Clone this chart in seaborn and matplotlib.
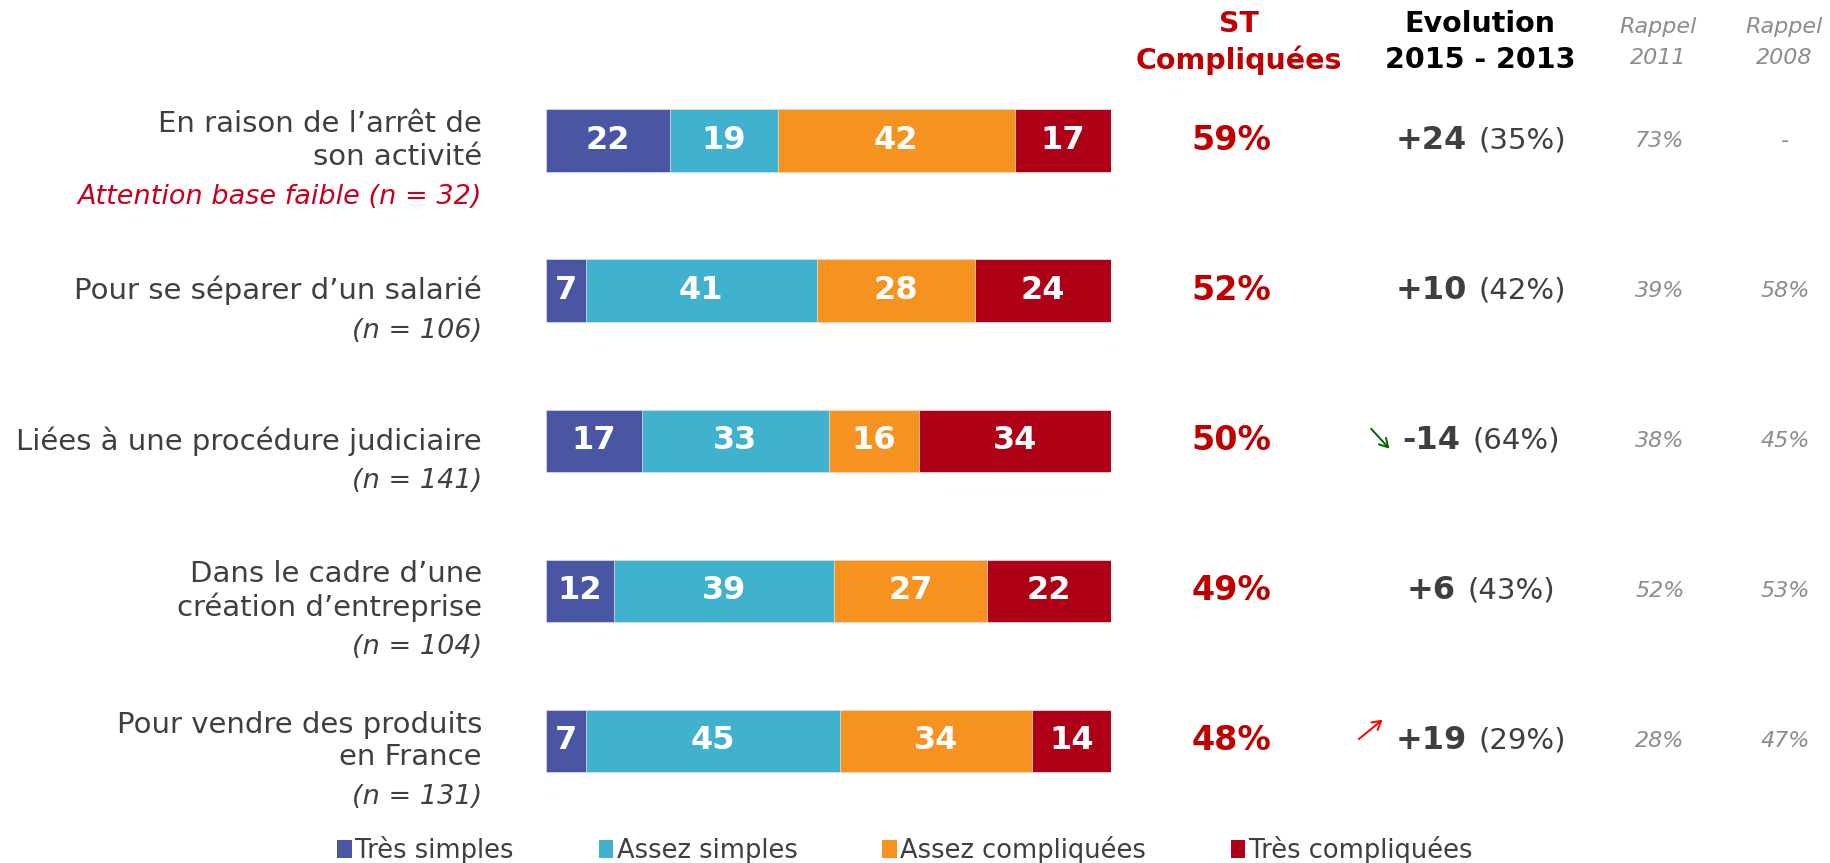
import numpy as np
import pandas as pd
import matplotlib
matplotlib.use('Agg')
import matplotlib.pyplot as plt
import matplotlib.transforms as mtransforms
from matplotlib.patches import Patch, FancyArrowPatch
import seaborn as sns

# Data
labels = ["En raison de l’arrêt de\nson activité",
          "Pour se séparer d’un salarié",
          "Liées à une procédure judiciaire",
          "Dans le cadre d’une\ncréation d’entreprise",
          "Pour vendre des produits\nen France"]
bases = ["Attention base faible (n = 32)", "(n = 106)", "(n = 141)", "(n = 104)", "(n = 131)"]
series_names = ["Très simples", "Assez simples", "Assez compliquées", "Très compliquées"]
tres_simples = [22, 7, 17, 12, 7]
assez_simples = [19, 41, 33, 39, 45]
assez_compliquees = [42, 28, 16, 27, 34]
tres_compliquees = [17, 24, 34, 22, 14]
st_compliquees = ["59%", "52%", "50%", "49%", "48%"]
evolution = ["+24", "+10", "-14", "+6", "+19"]
evolution_2013 = ["(35%)", "(42%)", "(64%)", "(43%)", "(29%)"]
trend = [None, None, "down", None, "up"]
rappel_2011 = ["73%", "39%", "38%", "52%", "28%"]
rappel_2008 = ["-", "58%", "45%", "53%", "47%"]

colors = ["#4A55A3", "#41B2CE", "#F59220", "#AE0016"]
text_dark = "#3F3F3F"
red_text = "#C00000"
grey_text = "#8C8C8C"

sns.set_style("white")
plt.rcParams['font.family'] = ['DejaVu Sans']

W, H = 1830, 863
fig = plt.figure(figsize=(W / 100, H / 100), dpi=100)

# bar area: x 546..1111 px, row centres 140.5..741 px
ax = fig.add_axes([546 / W, 1 - 816 / H, (1111 - 546) / W, 750.5 / H])

df = pd.DataFrame({"label": labels,
                   series_names[0]: tres_simples,
                   series_names[1]: assez_simples,
                   series_names[2]: assez_compliquees,
                   series_names[3]: tres_compliquees})
cum = df[series_names].cumsum(axis=1)

# stacked bars: draw cumulative totals from the largest down
for name, col in reversed(list(zip(series_names, colors))):
    sns.barplot(x=cum[name], y=df["label"], color=col, orient="h", width=0.416,
                saturation=1, edgecolor="#E8E8E8", linewidth=0.5, ax=ax, order=labels)

ax.set_xlim(0, 100)
ax.set_ylim(4.5, -0.5)
ax.axis("off")

# segment values
for i in range(len(labels)):
    left = 0
    for name in series_names:
        v = df.loc[i, name]
        ax.text(left + v / 2, i, str(v), ha="center", va="center",
                color="white", fontsize=23, fontweight="bold")
        left += v

trans = mtransforms.blended_transform_factory(fig.transFigure, ax.transData)
px = 1 / 150.0  # data units per pixel vertically

# row labels
for i, (lab, base) in enumerate(zip(labels, bases)):
    nlines = lab.count("\n") + 1
    ax.text(482 / W, i, lab, transform=trans, ha="right", va="center",
            fontsize=21, color=text_dark, linespacing=1.2)
    off = (40 + (nlines - 1) * 16) * px
    ax.text(482 / W, i + off, base, transform=trans, ha="right", va="center",
            fontsize=19.5, style="italic",
            color="#C8001E" if i == 0 else text_dark)

# headers
fig.text(1239 / W, 1 - 24 / H, "ST", ha="center", va="center", fontsize=20.5,
         fontweight="bold", color=red_text)
fig.text(1239 / W, 1 - 60 / H, "Compliquées", ha="center", va="center", fontsize=20.5,
         fontweight="bold", color=red_text)
fig.text(1480 / W, 1 - 24 / H, "Evolution", ha="center", va="center", fontsize=20.5,
         fontweight="bold", color="black")
fig.text(1480 / W, 1 - 60 / H, "2015 - 2013", ha="center", va="center", fontsize=20.5,
         fontweight="bold", color="black")
for cx, yr in [(1658, "2011"), (1784, "2008")]:
    fig.text(cx / W, 1 - 27 / H, "Rappel", ha="center", va="center", fontsize=16,
             style="italic", color=grey_text)
    fig.text(cx / W, 1 - 58 / H, yr, ha="center", va="center", fontsize=16,
             style="italic", color=grey_text)

# right-hand columns
renderer = fig.canvas.get_renderer()
for i in range(len(labels)):
    ax.text(1231 / W, i, st_compliquees[i], transform=trans, ha="center", va="center",
            fontsize=24, fontweight="bold", color=red_text)
    ax.text(1660 / W, i, rappel_2011[i], transform=trans, ha="center", va="center",
            fontsize=16, style="italic", color=grey_text)
    ax.text(1785 / W, i, rappel_2008[i], transform=trans, ha="center", va="center",
            fontsize=16, style="italic", color=grey_text)

    t1 = ax.text(0, i, evolution[i], transform=trans, ha="left", va="center",
                 fontsize=23, fontweight="bold", color=text_dark)
    t2 = ax.text(0, i, evolution_2013[i], transform=trans, ha="left", va="center",
                 fontsize=21, color=text_dark)
    w1 = t1.get_window_extent(renderer).width
    w2 = t2.get_window_extent(renderer).width
    gap = 12
    start = 1481 - (w1 + gap + w2) / 2
    t1.set_x(start / W)
    t2.set_x((start + w1 + gap) / W)

    if trend[i] is not None:
        yc = 1 - (140.5 + i * 150.1) / H
        x_end = (start - 11) / W
        x_beg = (start - 33) / W
        if trend[i] == "down":
            fig.add_artist(FancyArrowPatch(
                (x_beg, yc + 14 / H), (x_end, yc - 10 / H), transform=fig.transFigure,
                arrowstyle="->,head_length=6,head_width=3.5", color="#006400", lw=1.4))
        else:
            fig.add_artist(FancyArrowPatch(
                (x_beg - 6 / W, yc), (x_end, yc + 23 / H), transform=fig.transFigure,
                arrowstyle="->,head_length=6,head_width=3.5", color="#FF0000", lw=1.4))

# legend
handles = [Patch(facecolor=c, edgecolor="none") for c in colors]
fig.legend(handles, series_names, loc="center", bbox_to_anchor=(905 / W, 1 - 850 / H),
           ncol=4, frameon=False, fontsize=18.5, handlelength=0.55, handleheight=0.75,
           handletextpad=0.15, columnspacing=3.3, labelcolor=text_dark)

fig.savefig("out.png", dpi=100)
